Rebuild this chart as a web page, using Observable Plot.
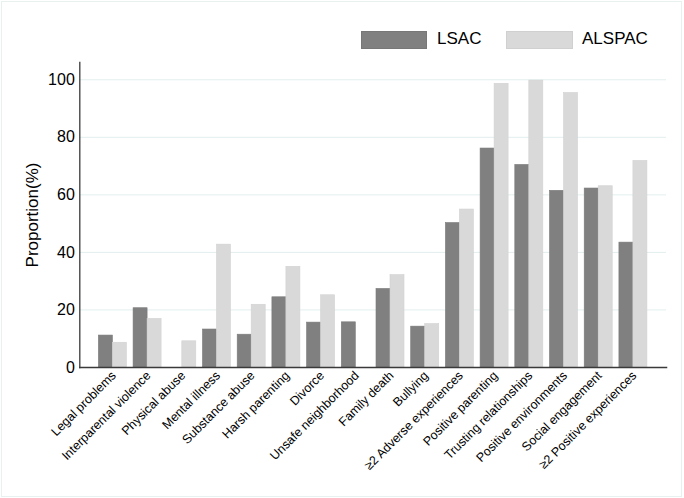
<!DOCTYPE html>
<html>
<head>
<meta charset="utf-8">
<script src="https://cdn.jsdelivr.net/npm/d3@7"></script>
<script src="https://cdn.jsdelivr.net/npm/@observablehq/plot@0.6"></script>
<style>
  html, body { margin: 0; padding: 0; background: #fff; }
  #wrap { position: relative; width: 684px; height: 498px; font-family: "Liberation Sans", Arial, sans-serif; overflow: hidden; }
  #frame { position: absolute; left: 1px; top: 1px; width: 679px; height: 494px; border: 1px solid #e8f0f0; pointer-events: none; }
  #chart { position: absolute; left: 0; top: 0; }
  .lg { position: absolute; top: 31px; height: 16px; }
  .lgt { position: absolute; top: 28px; font-size: 17px; color: #000; line-height: 22px; }
</style>
</head>
<body>
<div id="wrap">
  <div id="chart"></div>
  <div id="frame"></div>
  <div class="lg" style="left:361px;width:64px;background:#808080;border:1px solid #777;"></div>
  <div class="lgt" style="left:437px;">LSAC</div>
  <div class="lg" style="left:506px;width:65px;background:#d9d9d9;border:1px solid #d0d0d0;"></div>
  <div class="lgt" style="left:582px;">ALSPAC</div>
</div>
<script>
const categories = ["Legal problems", "Interparental violence", "Physical abuse", "Mental illness", "Substance abuse", "Harsh parenting", "Divorce", "Unsafe neighborhood", "Family death", "Bullying", "≥2 Adverse experiences", "Positive parenting", "Trusting relationships", "Positive environments", "Social engagement", "≥2 Positive experiences"];
const lsac   = [11.1, 20.6, 0, 13.2, 11.4, 24.4, 15.6, 15.7, 27.3, 14.2, 50.2, 76.1, 70.4, 61.4, 62.2, 43.4];
const alspac = [8.6, 16.9, 9.1, 42.7, 21.8, 35.0, 25.1, 0, 32.1, 15.1, 54.9, 98.6, 99.7, 95.4, 63.0, 71.8];
const yTicks = [0, 20, 40, 60, 80, 100];
const seriesNames = ["LSAC", "ALSPAC"];

const lsacData = categories.map((c, i) => ({category: c, value: lsac[i], series: seriesNames[0]}));
const alspacData = categories.map((c, i) => ({category: c, value: alspac[i], series: seriesNames[1]}));

const width = 684, height = 498;
const mL = 79.3, mR = 18, mT = 62, mB = 131;
const pInner = 0.193, pOuter = 0.55;
const step = (width - mL - mR) / (categories.length - pInner + 2 * pOuter);
const half = step * (1 - pInner) / 2;

const chart = Plot.plot({
  width, height,
  marginLeft: mL, marginRight: mR, marginTop: mT, marginBottom: mB,
  style: {fontFamily: "'Liberation Sans', Arial, sans-serif", color: "#000", background: "transparent"},
  x: {domain: categories, paddingInner: pInner, paddingOuter: pOuter, round: false, label: null},
  y: {domain: [0, 106], label: null},
  marks: [
    Plot.ruleY(yTicks.filter(d => d > 0), {stroke: "#e3eeee", strokeWidth: 1}),
    Plot.barY(lsacData, {x: "category", y: "value", fill: "#808080", stroke: "#7a7a7a", strokeWidth: 0.6, insetRight: half}),
    Plot.barY(alspacData, {x: "category", y: "value", fill: "#d9d9d9", stroke: "#d2d2d2", strokeWidth: 0.6, insetLeft: half}),
    Plot.axisY({ticks: yTicks, tickSize: 0, tickPadding: 5, fontSize: 16, label: null}),
    Plot.axisX({tickSize: 0, tickPadding: 6, tickRotate: -45, fontSize: 12.5, label: null, dx: 1}),
    Plot.text(["Proportion(%)"], {frameAnchor: "left", dx: -47, rotate: -90, fontSize: 17, textAnchor: "middle"}),
    Plot.frame({anchor: "left", stroke: "#3a3a3a", strokeWidth: 1.3}),
    Plot.frame({anchor: "bottom", stroke: "#3a3a3a", strokeWidth: 1.5})
  ]
});
document.getElementById("chart").appendChild(chart);
</script>
</body>
</html>
